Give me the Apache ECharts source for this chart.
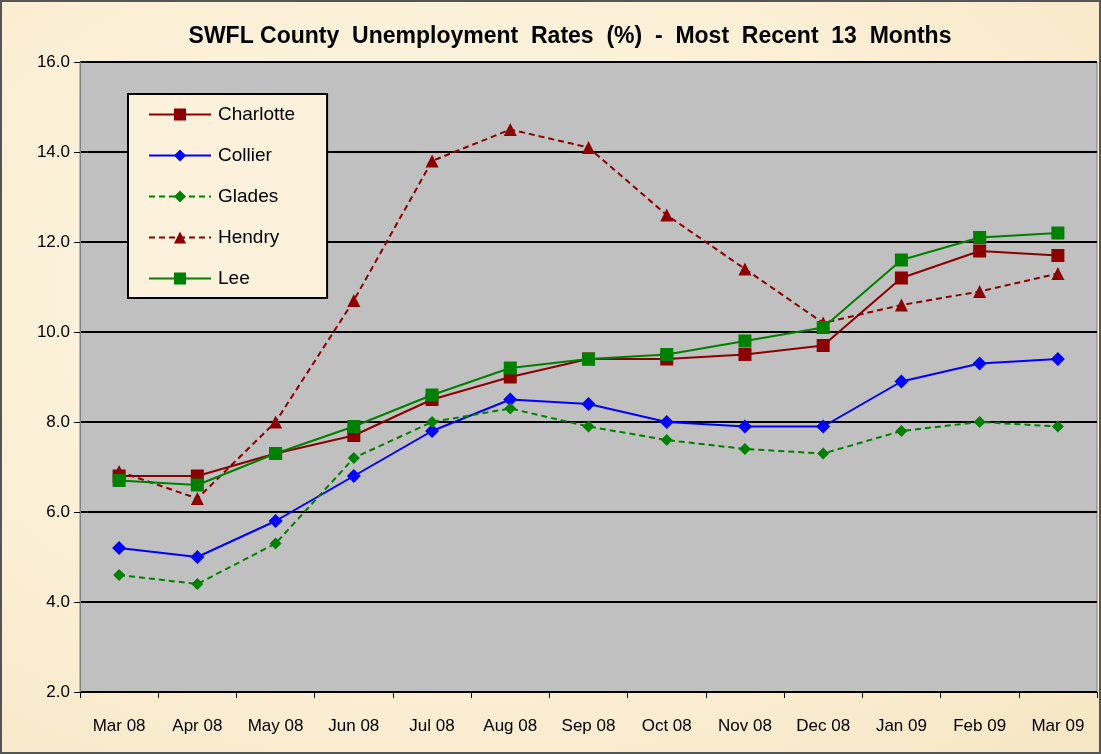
<!DOCTYPE html>
<html>
<head>
<meta charset="utf-8">
<script src="https://cdn.jsdelivr.net/npm/echarts@6/dist/echarts.min.js"></script>
<style>
html,body{margin:0;padding:0;}
#chart{width:1101px;height:754px;box-sizing:border-box;border:2px solid #555;
  background:radial-gradient(ellipse at 40% 40%, #fdf5e2 0%, #fbefd6 55%, #f6e6c3 100%);}
</style>
</head>
<body>
<div id="chart"></div>
<script>
// months on the x axis
var months = ['Mar 08','Apr 08','May 08','Jun 08','Jul 08','Aug 08','Sep 08','Oct 08','Nov 08','Dec 08','Jan 09','Feb 09','Mar 09'];
// county rates (%)
var charlotte = [6.8,6.8,7.3,7.7,8.5,9.0,9.4,9.4,9.5,9.7,11.2,11.8,11.7];
var collier   = [5.2,5.0,5.8,6.8,7.8,8.5,8.4,8.0,7.9,7.9,8.9,9.3,9.4];
var glades    = [4.6,4.4,5.3,7.2,8.0,8.3,7.9,7.6,7.4,7.3,7.8,8.0,7.9];
var hendry    = [6.9,6.3,8.0,10.7,13.8,14.5,14.1,12.6,11.4,10.2,10.6,10.9,11.3];
var lee       = [6.7,6.6,7.3,7.9,8.6,9.2,9.4,9.5,9.8,10.1,11.6,12.1,12.2];

var font = '"Liberation Sans", Arial, sans-serif';

function mkSeries(name, data, color, symbol, size, dashed){
  return {
    name: name, type: 'line', data: data,
    symbol: symbol, symbolSize: size,
    itemStyle: {color: color},
    lineStyle: {color: color, width: 2, type: dashed ? [6,4] : 'solid'},
    z: 3
  };
}

var chart = echarts.init(document.getElementById('chart'));
chart.setOption({
  animation: false,
  title: {
    text: 'SWFL County  Unemployment  Rates  (%)  -  Most  Recent  13  Months',
    left: 563, top: 18, textAlign: 'center',
    textStyle: {fontFamily: font, fontSize: 23, fontWeight: 'bold', color: '#000'}
  },
  grid: {left: 78, right: 2, top: 60, bottom: 60, show: true, backgroundColor: '#c0c0c0', borderColor: '#808080', borderWidth: 1},
  legend: {
    orient: 'vertical', left: 126, top: 92,
    data: ['Charlotte','Collier','Glades','Hendry','Lee'],
    backgroundColor: '#fcf1da', borderColor: '#000', borderWidth: 2,
    padding: [11, 32, 10, 20],
    itemWidth: 62, itemHeight: 15, itemGap: 22,
    textStyle: {fontFamily: font, fontSize: 19, color: '#000', padding: [0, 0, 0, 2]}
  },
  xAxis: {
    type: 'category', data: months, boundaryGap: true,
    axisLine: {lineStyle: {color: '#000', width: 1}},
    axisTick: {show: true, length: 6, lineStyle: {color: '#000'}},
    axisLabel: {fontFamily: font, fontSize: 17, color: '#000', margin: 26}
  },
  yAxis: {
    type: 'value', min: 2, max: 16, interval: 2,
    axisLine: {show: true, lineStyle: {color: '#808080'}},
    axisTick: {show: true, length: 6, lineStyle: {color: '#000'}},
    axisLabel: {fontFamily: font, fontSize: 17, color: '#000', margin: 10,
      formatter: function(v){ return v.toFixed(1); }},
    splitLine: {lineStyle: {color: '#000', width: 2}}
  },
  series: [
    mkSeries('Charlotte', charlotte, '#8b0000', 'rect', 13, false),
    mkSeries('Collier', collier, '#0000ff', 'diamond', 14, false),
    mkSeries('Glades', glades, '#008000', 'diamond', 12, true),
    mkSeries('Hendry', hendry, '#8b0000', 'triangle', 13, true),
    mkSeries('Lee', lee, '#008000', 'rect', 13, false)
  ]
});
</script>
</body>
</html>
